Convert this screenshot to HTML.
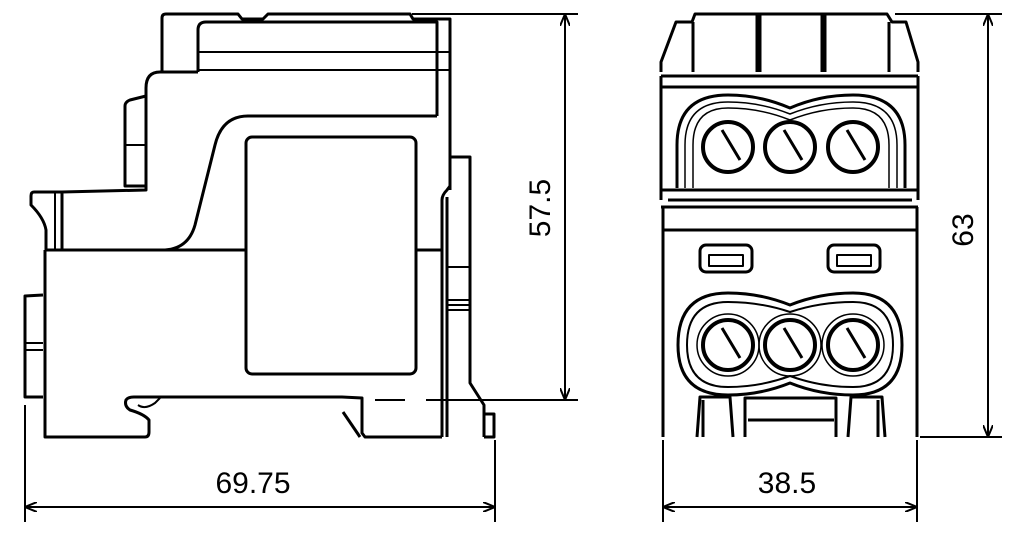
<!DOCTYPE html>
<html><head><meta charset="utf-8"><style>html,body{margin:0;padding:0;background:#fff}svg{display:block}</style></head><body>
<svg width="1024" height="537" viewBox="0 0 1024 537" xmlns="http://www.w3.org/2000/svg" fill="none" stroke="#000" stroke-width="3" stroke-linejoin="round">
<defs><marker id="a" markerWidth="12" markerHeight="10" refX="11" refY="5" orient="auto-start-reverse" markerUnits="userSpaceOnUse"><path d="M0,0 L12,5 L0,10" fill="none" stroke="#000" stroke-width="2"/></marker></defs>
<!-- LEFT VIEW -->
<path d="M162,72 V18 Q162,14 166,14 H238 L242,19 H263 L268,14 H410 L413,19 H450 V190"/>
<path d="M198,72 V30 Q198,22 206,22 H437 V116"/>
<line x1="198" y1="52" x2="450" y2="52" stroke-width="2"/>
<line x1="198" y1="70" x2="450" y2="70" stroke-width="2"/>
<path d="M437,116 H248 Q222,116 215,145 L195,225 Q188,250 162,250"/>
<path d="M198,72 H160 Q146,72 146,88 V190 L62,192 V250"/>
<path d="M146,96 L130,100 Q125,102 125,106 V186 H146"/>
<line x1="125" y1="145" x2="146" y2="145" stroke-width="2"/>
<path d="M62,192 H34 Q31,192 31,196 V205 Q44,218 46,230 V250"/>
<line x1="55" y1="192" x2="55" y2="250" stroke-width="2"/>
<path d="M45,250 V437 H145 Q149,437 149,432 V420 Q144,414 130,410 Q124,406 126,400 Q128,397 134,397 H342 L362,398 V433 L365,437 H442"/>
<path d="M138,405 Q145,410 155,403 L160,398" stroke-width="2"/>
<path d="M343,412 L360,437"/>
<path d="M45,250 H246 M416,250 H442"/>
<rect x="246" y="137" width="170" height="237" rx="6"/>
<path d="M442,437 V200 Q442,195 447,190 L450,186 V157 H470 V383 L484,405 V437"/>
<path d="M447,197 V437"/>
<path d="M484,414 H494 V437 H484"/>
<line x1="447" y1="267" x2="470" y2="267" stroke-width="2"/>
<line x1="447" y1="300" x2="470" y2="300" stroke-width="2"/>
<line x1="447" y1="305" x2="470" y2="305" stroke-width="2"/>
<line x1="447" y1="310" x2="470" y2="310" stroke-width="2"/>
<path d="M43,295 L25,296 V397 H43"/>
<line x1="25" y1="343" x2="43" y2="343" stroke-width="2"/>
<line x1="25" y1="350" x2="43" y2="350" stroke-width="2"/>
<!-- left dims -->
<line x1="412" y1="14" x2="578" y2="14" stroke-width="2"/>
<line x1="375" y1="400" x2="405" y2="400" stroke-width="2"/>
<line x1="426" y1="400" x2="578" y2="400" stroke-width="2"/>
<line x1="565" y1="15" x2="565" y2="399" stroke-width="2" marker-start="url(#a)" marker-end="url(#a)"/>
<text x="0" y="0" transform="translate(550,208) rotate(-90)" text-anchor="middle" font-family="Liberation Sans, sans-serif" font-size="30" fill="#000" stroke="none">57.5</text>
<line x1="25" y1="405" x2="25" y2="522" stroke-width="2"/>
<line x1="495" y1="440" x2="495" y2="522" stroke-width="2"/>
<line x1="26" y1="507" x2="494" y2="507" stroke-width="2" marker-start="url(#a)" marker-end="url(#a)"/>
<text x="253" y="493" text-anchor="middle" font-family="Liberation Sans, sans-serif" font-size="30" fill="#000" stroke="none">69.75</text>
<!-- RIGHT VIEW -->
<path d="M661,72 V62 L676,22 H692 L695,14 H887 L892,22 H906 L918,62 V72"/>
<path d="M693,72 V22 M889,72 V22 M757,14 V72 M760,14 V72 M822,14 V72 M825,14 V72"/>
<path d="M661,76 H918 M661,76 V200 M918,76 V200 M661,87 H918"/>
<path d="M677,188 V145 Q677,95 728,95 Q760,95 790,108 Q820,95 853,95 Q905,95 905,145 V188"/>
<path d="M685,188 V145 Q685,102 728,102 Q760,102 790,114 Q820,102 853,102 Q897,102 897,145 V188" stroke-width="1.5"/>
<path d="M693,188 V145 Q693,108 728,108 Q760,108 790,120 Q820,108 853,108 Q889,108 889,145 V188" stroke-width="1.5"/>
<circle cx="728" cy="147" r="25" stroke-width="4"/><circle cx="790" cy="147" r="25" stroke-width="4"/><circle cx="853" cy="147" r="25" stroke-width="4"/>
<path d="M722,130 L740,160 M784,130 L802,160 M847,130 L865,160"/>
<path d="M661,190 H918 M668,200 H912 M661,207 H918"/>
<path d="M663,207 V437 M917,207 V437 M663,230 H917"/>
<rect x="700" y="245" width="52" height="27" rx="6"/><rect x="709" y="255" width="34" height="11" stroke-width="2"/>
<rect x="828" y="245" width="52" height="27" rx="6"/><rect x="837" y="255" width="34" height="11" stroke-width="2"/>
<path d="M728,293 Q760,293 790,305 Q820,293 853,293 Q902,293 902,345 Q902,395 853,395 Q820,395 790,383 Q760,395 728,395 Q678,395 678,345 Q678,293 728,293 Z"/>
<path d="M728,302 Q760,302 790,312 Q820,302 853,302 Q893,302 893,345 Q893,387 853,387 Q820,387 790,376 Q760,387 728,387 Q687,387 687,345 Q687,302 728,302 Z" stroke-width="2"/>
<circle cx="728" cy="345" r="25" stroke-width="4"/><circle cx="790" cy="345" r="25" stroke-width="4"/><circle cx="853" cy="345" r="25" stroke-width="4"/>
<circle cx="728" cy="345" r="31" stroke-width="1.5"/><circle cx="790" cy="345" r="31" stroke-width="1.5"/><circle cx="853" cy="345" r="31" stroke-width="1.5"/>
<path d="M722,328 L740,358 M784,328 L802,358 M847,328 L865,358"/>
<path d="M697,437 L700,397 H730 L733,437 M745,437 V398 H836 V437 M848,437 L851,397 H882 L885,437 M703,437 V400 M878,437 V400 M748,420 H834"/>
<!-- right dims -->
<line x1="895" y1="14" x2="1002" y2="14" stroke-width="2"/>
<line x1="920" y1="437" x2="1002" y2="437" stroke-width="2"/>
<line x1="988" y1="15" x2="988" y2="436" stroke-width="2" marker-start="url(#a)" marker-end="url(#a)"/>
<text x="0" y="0" transform="translate(973,230) rotate(-90)" text-anchor="middle" font-family="Liberation Sans, sans-serif" font-size="30" fill="#000" stroke="none">63</text>
<line x1="663" y1="440" x2="663" y2="522" stroke-width="2"/>
<line x1="917" y1="440" x2="917" y2="522" stroke-width="2"/>
<line x1="664" y1="507" x2="916" y2="507" stroke-width="2" marker-start="url(#a)" marker-end="url(#a)"/>
<text x="787" y="493" text-anchor="middle" font-family="Liberation Sans, sans-serif" font-size="30" fill="#000" stroke="none">38.5</text>
</svg>
</body></html>
